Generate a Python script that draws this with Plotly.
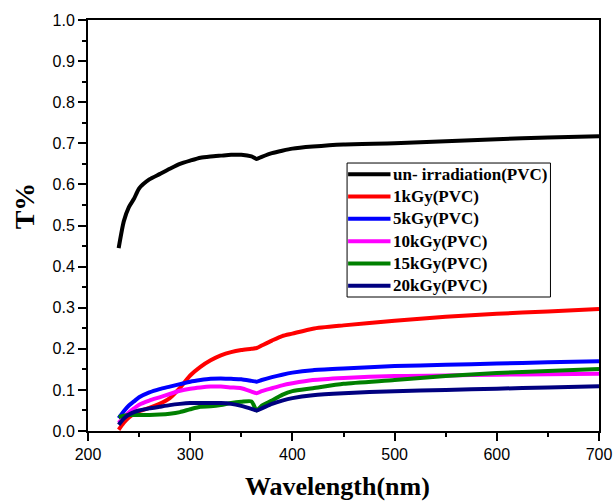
import plotly.graph_objects as go

wavelength = [230, 235, 240, 245, 250, 260, 270, 280, 290, 300, 310, 320, 330, 340, 350,
              360, 365, 370, 380, 390, 400, 420, 450, 500, 550, 600, 650, 700]

t_unirr = [0.445, 0.510, 0.545, 0.565, 0.590, 0.612, 0.625, 0.638, 0.650, 0.658, 0.665, 0.668,
           0.670, 0.672, 0.672, 0.668, 0.662, 0.667, 0.676, 0.682, 0.687, 0.692, 0.697, 0.700,
           0.705, 0.710, 0.714, 0.717]
t_1kgy = [0.003, 0.020, 0.033, 0.042, 0.048, 0.056, 0.066, 0.080, 0.105, 0.135, 0.156, 0.172,
          0.184, 0.192, 0.197, 0.200, 0.202, 0.208, 0.220, 0.231, 0.237, 0.249, 0.257, 0.268,
          0.278, 0.285, 0.291, 0.297]
t_5kgy = [0.031, 0.048, 0.062, 0.072, 0.082, 0.094, 0.102, 0.108, 0.114, 0.120, 0.124, 0.127,
          0.128, 0.127, 0.126, 0.122, 0.120, 0.124, 0.131, 0.137, 0.142, 0.148, 0.152, 0.158,
          0.161, 0.164, 0.167, 0.170]
t_10kgy = [0.020, 0.033, 0.045, 0.055, 0.064, 0.074, 0.082, 0.090, 0.098, 0.103, 0.106, 0.108,
           0.108, 0.106, 0.104, 0.096, 0.092, 0.097, 0.104, 0.111, 0.116, 0.124, 0.129, 0.134,
           0.135, 0.137, 0.138, 0.139]
t_15kgy = [0.034, 0.037, 0.039, 0.039, 0.039, 0.039, 0.040, 0.042, 0.046, 0.053, 0.059, 0.060,
           0.063, 0.068, 0.071, 0.072, 0.050, 0.062, 0.074, 0.088, 0.097, 0.104, 0.115, 0.124,
           0.134, 0.141, 0.146, 0.151]
t_20kgy = [0.015, 0.030, 0.040, 0.046, 0.050, 0.055, 0.059, 0.063, 0.066, 0.068, 0.068, 0.068,
           0.068, 0.066, 0.061, 0.054, 0.050, 0.055, 0.066, 0.074, 0.080, 0.087, 0.092, 0.097,
           0.100, 0.103, 0.106, 0.109]

series_names = ["un- irradiation(PVC)", "1kGy(PVC)", "5kGy(PVC)", "10kGy(PVC)",
                "15kGy(PVC)", "20kGy(PVC)"]
series_values = [t_unirr, t_1kgy, t_5kgy, t_10kgy, t_15kgy, t_20kgy]
series_colors = ["#000000", "#ff0000", "#0000ff", "#ff00ff", "#008000", "#000080"]

x_ticks = [200, 300, 400, 500, 600, 700]
y_ticks = [0.0, 0.1, 0.2, 0.3, 0.4, 0.5, 0.6, 0.7, 0.8, 0.9, 1.0]

fig = go.Figure()
for name, vals, col in zip(series_names, series_values, series_colors):
    fig.add_trace(go.Scatter(x=wavelength, y=vals, name=name, mode="lines", showlegend=False,
                             line=dict(color=col, width=4, shape="spline", smoothing=0.6)))

axis_common = dict(showline=True, linecolor="black", linewidth=2, mirror=True,
                   ticks="outside", ticklen=8, tickwidth=1.5, tickcolor="black",
                   showgrid=False, zeroline=False, automargin=False,
                   tickfont=dict(family="Liberation Sans, Arial", size=16, color="black"))

fig.update_xaxes(range=[200, 700], tickvals=x_ticks,
                 minor=dict(dtick=50, ticks="outside", ticklen=4, tickwidth=1.5, tickcolor="black"),
                 **axis_common)
fig.update_yaxes(range=[0, 1], tickvals=y_ticks, tickformat=".1f",
                 minor=dict(dtick=0.05, ticks="outside", ticklen=4, tickwidth=1.5, tickcolor="black"),
                 **axis_common)

fig.add_annotation(text="<b>Wavelength(nm)</b>", xref="paper", yref="paper",
                   x=0.489, y=-0.135, xanchor="center", yanchor="middle", showarrow=False,
                   font=dict(family="Liberation Serif, Times New Roman", size=26, color="black"))
fig.add_annotation(text="<b>T%</b>", xref="paper", yref="paper", textangle=-90,
                   x=-0.125, y=0.547, xanchor="center", yanchor="middle", showarrow=False,
                   font=dict(family="Liberation Serif, Times New Roman", size=28, color="black"))

# Legend box (paper coordinates), drawn as shapes + text
leg_x0, leg_x1 = 0.507, 0.905
leg_y1, leg_y0 = 0.652, 0.326
fig.add_shape(type="rect", xref="paper", yref="paper", x0=leg_x0, x1=leg_x1, y0=leg_y0, y1=leg_y1,
              line=dict(color="black", width=1), fillcolor="white", layer="above")
row_h = (leg_y1 - leg_y0) / len(series_names)
for i, (name, col) in enumerate(zip(series_names, series_colors)):
    yc = leg_y1 - row_h * (i + 0.5)
    fig.add_shape(type="line", xref="paper", yref="paper", x0=leg_x0 + 0.002, x1=leg_x0 + 0.085,
                  y0=yc, y1=yc, line=dict(color=col, width=4), layer="above")
    fig.add_annotation(text="<b>" + name + "</b>", xref="paper", yref="paper",
                       x=leg_x0 + 0.085, y=yc, xanchor="left", yanchor="middle", showarrow=False,
                       font=dict(family="Liberation Serif, Times New Roman", size=17, color="black"))

fig.update_layout(
    width=616, height=504,
    margin=dict(l=88, r=17, t=20, b=73),
    paper_bgcolor="white", plot_bgcolor="white",
    showlegend=False,
)
fig.write_html("out.html", config={"displayModeBar": False},
               post_script="document.body.style.margin='0';document.body.style.overflow='hidden';"
                           "document.documentElement.style.overflow='hidden';")
